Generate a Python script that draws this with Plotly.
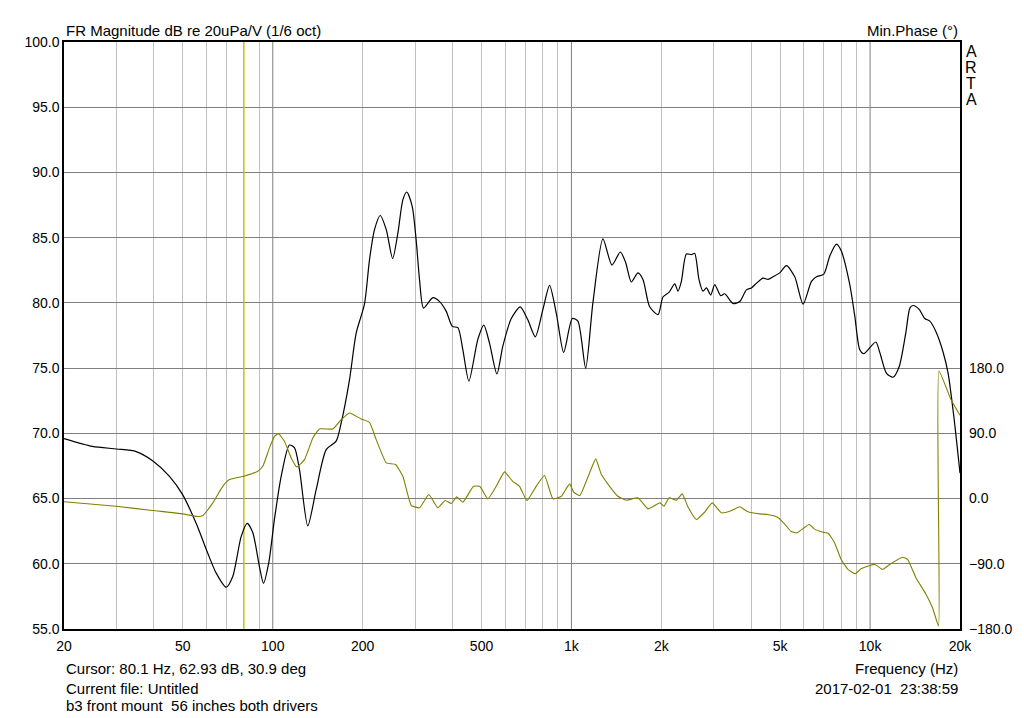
"""
ARTA style frequency response plot: magnitude + minimum phase
"""
import plotly.graph_objects as go

# magnitude (1/6 oct smoothed)
freq_mag = [20, 24.9, 30, 34.9, 39.6, 45.1, 49.9, 55.4, 60.6, 64.6, 69.8, 73.4, 78.4, 82.1,
            85.7, 90.2, 93.1, 97.0, 101.3, 106.7, 113.7, 118.2, 122.9, 131, 139.8, 151, 163,
            169.5, 180.7, 190.3, 202.8, 210.8, 219, 229, 240, 252, 262.4, 272.6, 281, 293,
            302, 310, 319.8, 343.6, 361.9, 381, 399, 416.8, 433, 453.6, 486, 509, 532, 563,
            589.5, 629, 674, 714.5, 757, 802.7, 845, 890, 942, 1007, 1051, 1116, 1180, 1275,
            1367, 1458, 1519, 1587, 1670, 1736, 1828, 1950, 2025, 2121, 2217, 2274, 2334,
            2426, 2522, 2586, 2673, 2757, 2831, 2927, 3019, 3161, 3260, 3475, 3660, 3854,
            4006, 4164, 4380, 4552, 4732, 4983, 5248, 5594, 5965, 6364, 6614, 6998, 7330,
            7718, 8017, 8551, 8886, 9235, 9524, 10446, 10777, 11350, 11940, 12510, 13170,
            13590, 13930, 14600, 15250, 15850, 16690, 17570, 18250, 19070, 20000]
mag_db = [69.6, 69.0, 68.8, 68.6, 67.9, 66.7, 65.3, 63.1, 60.8, 59.3, 58.2, 59.0, 62.1, 63.1,
          62.4, 59.8, 58.5, 60.1, 63.4, 66.7, 69.1, 68.9, 67.2, 62.9, 65.7, 68.75, 69.4,
          70.8, 74.1, 77.7, 79.9, 83.3, 85.6, 86.7, 85.6, 83.4, 85.35, 87.9, 88.5, 87.4,
          84.85, 81.8, 79.6, 80.4, 80.1, 79.35, 78.2, 78.1, 76.4, 74.0, 77.2, 78.3, 76.9, 74.55,
          76.7, 78.8, 79.7, 78.7, 77.4, 79.5, 81.35, 79.2, 76.2, 78.8, 78.6, 75.0, 80.0, 84.9,
          82.9, 83.9, 83.1, 81.6, 82.3, 81.8, 79.7, 79.1, 80.45, 80.8, 81.45, 80.9, 81.65,
          83.75, 83.7, 83.8, 81.8, 80.9, 81.15, 80.6, 81.4, 80.55, 80.7, 79.95, 80.1, 81.0,
          81.15, 81.5, 81.9, 81.8, 82.0, 82.3, 82.85, 82.0, 79.9, 81.65, 82.0, 82.2, 83.6,
          84.5, 83.95, 81.4, 79.0, 76.4, 76.1, 77.0, 76.2, 74.6, 74.3, 75.1, 77.7,
          79.6, 79.8, 79.5, 78.8, 78.6, 77.7, 76.2, 74.6, 71.3, 66.95]

# minimum phase (wrapped)
freq_phase = [20, 29.9, 39.6, 49.9, 56.1, 58.3, 63.0, 68.0, 71.6, 80.1, 89.1, 92.6, 97.5, 101.3,
              104.5, 109.4, 115.3, 120.3, 127.7, 136.2, 143.4, 158.8, 169.5, 180.7, 197.7,
              210.8, 222, 240, 257.8, 272.6, 290.9, 310, 333, 357, 378, 396, 413, 433, 470,
              493, 525, 560, 597, 636, 670, 710, 762, 813, 867, 925, 986, 1018, 1066, 1150,
              1206, 1260, 1342, 1430, 1527, 1670, 1805, 1980, 2040, 2125, 2242, 2350, 2450,
              2620, 2790, 2960, 3180, 3390, 3660, 3900, 4270, 4550, 4900, 5160, 5430, 5690,
              6250, 6500, 6960, 7250, 7600, 8000, 8430, 8930, 9330, 9990, 10390, 11010, 11630,
              12850, 13350, 14240, 15400, 16180, 16960, 17000, 18680, 20000]
phase_deg = [-4.5, -10.6, -16.5, -21.1, -24.8, -23.4, -5.9, 16.9, 26.2, 30.9, 37.6, 44.5, 69.9, 85.9,
             89.6, 79.0, 56.1, 43.7, 53.7, 83.6, 96.0, 96.0, 108.9, 118.1, 109.8,
             105.1, 81.3, 49.2, 46.9, 30.7, -9.6, -12.8, 5.5, -12.8, -2.8, -6.9, 2.3, -5.1, 16.9,
             16.9, -0.4, 16.9, 36.8, 23.8, 16.9, -2.8, 16.9, 31.7, -0.4, 3.2, 20.3, 8.7, 4.1, 35.4,
             54.7, 33.1, 16.9, 3.2, -2.3, 1.0, -14.2, -5.9, -10.6, 1.0, -2.3, 6.5, -10.6,
             -28.9, -18.9, -5.9, -19.7, -17.5, -11.4, -18.3, -21.1, -22.0, -25.8, -34.5, -45.1, -47.3,
             -35.8, -41.8, -46.4, -48.2, -61.0, -84.0, -97.8, -103.7, -96.9, -92.3, -90.9, -97.8, -90.9,
             -80.9, -84.0, -109.3, -132.3, -150.6, -176, 176, 136, 115]

cursor_freq = 80.1

x_labels = [20, 50, 100, 200, 500, 1000, 2000, 5000, 10000, 20000]
x_label_text = ['20', '50', '100', '200', '500', '1k', '2k', '5k', '10k', '20k']
x_minor = [30, 40, 50, 60, 70, 80, 90,
           200, 300, 400, 500, 600, 700, 800, 900,
           2000, 3000, 4000, 5000, 6000, 7000, 8000, 9000]
x_decades = [100, 1000, 10000]
db_range = [55, 100]
phase_ticks = [-180, -90, 0, 90, 180]

FONT = 'Liberation Sans, Arial, sans-serif'
fig = go.Figure()

# decade grid lines (darker)
dec_x, dec_y = [], []
for d in x_decades:
    dec_x += [d, d, None]
    dec_y += [db_range[0], db_range[1], None]
fig.add_trace(go.Scatter(x=dec_x, y=dec_y, mode='lines',
                         line=dict(color='#808080', width=1), hoverinfo='skip'))

# cursor
fig.add_trace(go.Scatter(x=[cursor_freq, cursor_freq], y=db_range, mode='lines',
                         line=dict(color='#c8c000', width=1.2), hoverinfo='skip'))

fig.add_trace(go.Scatter(x=freq_phase, y=phase_deg, mode='lines', yaxis='y2',
                         name='Min.Phase',
                         line=dict(color='#808000', width=1.1, shape='spline', smoothing=0.4)))

fig.add_trace(go.Scatter(x=freq_mag, y=mag_db, mode='lines', name='Magnitude',
                         line=dict(color='#000000', width=1.2, shape='spline', smoothing=0.7)))

# the page adds an 8px body margin, so the figure is drawn 8px smaller
fig.update_layout(
    width=1016, height=710,
    margin=dict(l=56, r=64, t=34, b=89),
    paper_bgcolor='white', plot_bgcolor='white',
    showlegend=False,
    font=dict(family=FONT, size=14, color='#000000'),
    xaxis=dict(
        type='log', range=[1.30103, 4.30103],
        tickmode='array', tickvals=x_labels, ticktext=x_label_text,
        showgrid=False, ticks='', ticklabelstandoff=3,
        showline=True, linecolor='#000000', linewidth=1.5, mirror=True,
        minor=dict(tickmode='array', tickvals=x_minor, showgrid=True,
                   gridcolor='#c0c0c0', gridwidth=1, ticks=''),
        zeroline=False,
    ),
    yaxis=dict(
        range=db_range, dtick=5, tickformat='.1f',
        showgrid=True, gridcolor='#808080', gridwidth=1, ticks='',
        ticklabelstandoff=0,
        showline=True, linecolor='#000000', linewidth=1.5, mirror=True,
        zeroline=False,
    ),
    yaxis2=dict(
        overlaying='y', side='right', range=[-180, 630],
        tickmode='array', tickvals=phase_ticks, tickformat='.1f',
        showgrid=False, zeroline=False, ticks='', ticklabelstandoff=8,
    ),
)

notes = [
    ('FR Magnitude dB re 20uPa/V (1/6 oct)', 0, 1, 'left', 12),
    ('Min.Phase (°)', 1, 1, 'right', 12),
    ('Cursor: 80.1 Hz, 62.93 dB, 30.9 deg', 0, 0, 'left', -39),
    ('Frequency (Hz)', 1, 0, 'right', -39),
    ('Current file: Untitled', 0, 0, 'left', -59),
    ('2017-02-01\u00a0 23:38:59', 1, 0, 'right', -59),
    ('b3 front mount\u00a0 56 inches both drivers', 0, 0, 'left', -76),
]
for text, x, y, anchor, shift in notes:
    fig.add_annotation(text=text, xref='paper', yref='paper', x=x, y=y,
                       xanchor=anchor, yanchor='middle', yshift=shift,
                       showarrow=False, font=dict(family=FONT, size=15))

# ARTA logo, one letter per row, tightly stacked
for i, ch in enumerate('ARTA'):
    fig.add_annotation(text=ch, xref='paper', yref='paper', x=1, y=1,
                       xanchor='center', yanchor='middle', xshift=11, yshift=-9 - 16 * i,
                       showarrow=False, font=dict(family=FONT, size=16))

fig.write_html("out.html")
